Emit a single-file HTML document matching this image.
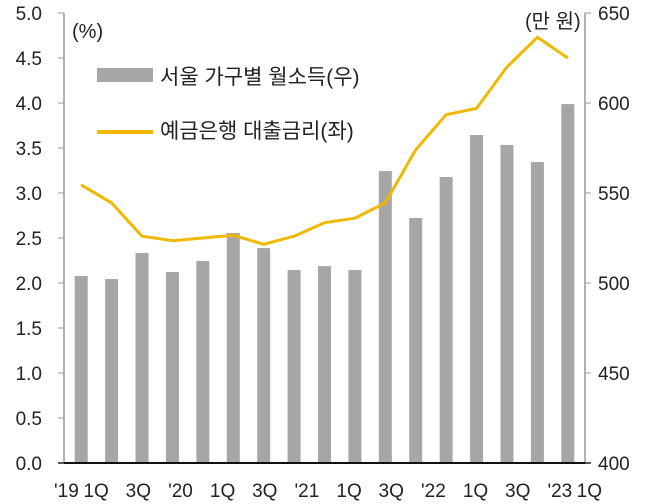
<!DOCTYPE html>
<html><head><meta charset="utf-8"><style>
body{margin:0;background:#fff;}
svg{display:block;font-family:"Liberation Sans","Noto Sans CJK KR",sans-serif;}
</style></head><body>
<svg id="chart" width="670" height="504" viewBox="0 0 670 504">
<g id="grid"></g>
<g id="bars"></g>
<g id="line"></g>
<g id="axes"></g>
<text x="72" y="38" font-size="20" fill="#222">(%)</text>
<text x="525" y="28" font-size="20" fill="#222">(만 원)</text>
<rect x="97" y="68" width="56" height="14" fill="#a6a6a6"/>
<text x="160" y="84" font-size="21" fill="#222">서울 가구별 월소득(우)</text>
<line x1="97" y1="132" x2="153" y2="132" stroke="#f0b800" stroke-width="4"/>
<text x="160" y="138" font-size="21" fill="#222">예금은행 대출금리(좌)</text>
</svg>
<script>
const categories=["19Q1","19Q2","19Q3","19Q4","20Q1","20Q2","20Q3","20Q4","21Q1","21Q2","21Q3","21Q4","22Q1","22Q2","22Q3","22Q4","23Q1"];
const incomeValues=[503.9,502.2,516.7,506.1,512.2,527.8,519.4,507.2,509.4,507.2,562.2,536.1,558.9,582.2,576.7,567.2,599.4];
const rateValues=[3.09,2.89,2.52,2.47,2.50,2.53,2.43,2.52,2.67,2.72,2.89,3.48,3.87,3.94,4.40,4.73,4.50];
const leftTicks=["0.0","0.5","1.0","1.5","2.0","2.5","3.0","3.5","4.0","4.5","5.0"];
const rightTicks=["400","450","500","550","600","650"];
const xLabels=["'19","1Q","3Q","'20","1Q","3Q","'21","1Q","3Q","'22","1Q","3Q","'23","1Q"];
const NS="http://www.w3.org/2000/svg";
const X0=66,X1=583,Y0=463,Y1=13;
const band=(X1-X0)/categories.length;
const xc=i=>X0+band*(i+0.5);
const yL=v=>Y0-(v/5)*(Y0-Y1);
const yR=v=>Y0-((v-400)/250)*(Y0-Y1);
function mk(tag,attrs,parent){const e=document.createElementNS(NS,tag);for(const k in attrs)e.setAttribute(k,attrs[k]);document.getElementById(parent).appendChild(e);return e;}
incomeValues.forEach((v,i)=>{
 const r=mk("rect",{x:xc(i)-6.5,y:yR(v),width:13,height:Y0-yR(v),fill:"#a6a6a6"},"bars");
 
 
});
const pts=rateValues.map((v,i)=>xc(i)+","+yL(v)).join(" ");
const pl=mk("polyline",{points:pts,fill:"none",stroke:"#f0b800","stroke-width":3,"stroke-linejoin":"round"},"line");


const fl=mk("line",{x1:64,y1:Y1,x2:64,y2:Y0,stroke:"#999","stroke-width":1.5},"axes");


const fr=mk("line",{x1:585,y1:Y1,x2:585,y2:Y0,stroke:"#999","stroke-width":1.5},"axes");


const bl=mk("line",{x1:58,y1:Y0,x2:591,y2:Y0,stroke:"#111","stroke-width":2},"axes");


leftTicks.forEach(t=>{
 const y=yL(parseFloat(t));
 const tk=mk("line",{x1:58,y1:y,x2:64,y2:y,stroke:"#999"},"axes");
 
 
 const tx=mk("text",{x:42,y:y+7,"font-size":19,"text-anchor":"end",fill:"#222"},"axes");
 tx.textContent=t;
 
 
});
rightTicks.forEach(t=>{
 const y=yR(parseFloat(t));
 const tk=mk("line",{x1:585,y1:y,x2:591,y2:y,stroke:"#999"},"axes");
 
 
 const tx=mk("text",{x:598,y:y+7,"font-size":19,fill:"#222"},"axes");
 tx.textContent=t;
 
 
});
const lx0=54,lx1=602;
xLabels.forEach((t,i)=>{
 const x=lx0+(lx1-lx0)*i/(xLabels.length-1);
 const tx=mk("text",{x:x,y:497,"font-size":19,"text-anchor":i==0?"start":(i==xLabels.length-1?"end":"middle"),fill:"#222"},"axes");
 tx.textContent=t;
 
 
});
</script>
</body></html>
